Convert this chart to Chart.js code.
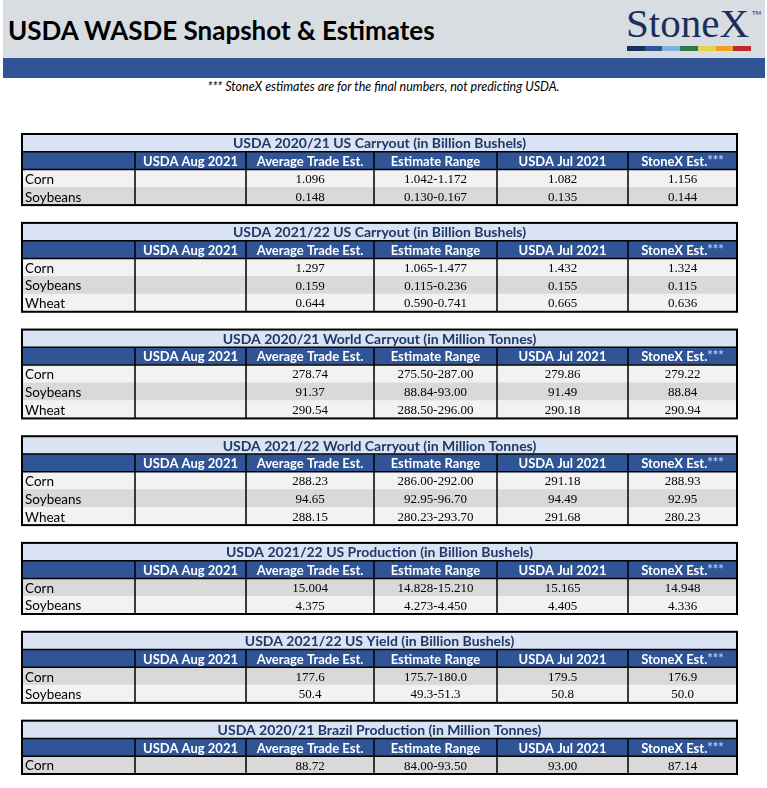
<!DOCTYPE html>
<html>
<head>
<meta charset="utf-8">
<title>USDA WASDE Snapshot &amp; Estimates</title>
<script src="https://cdn.jsdelivr.net/npm/chart.js@4.4.0/dist/chart.umd.min.js"></script>
<style>
  body { margin: 0; width: 767px; height: 788px; overflow: hidden; background: #fff; position: relative; font-family: Lato, sans-serif; }
  #banner { position: absolute; left: 3px; top: 0; width: 762px; height: 58px; background: #d8dde2; }
  #pageTitle { position: absolute; left: 8px; top: 15px; font: bold 26px Lato, sans-serif; color: #000; white-space: nowrap; line-height: 30px; }
  #logo { position: absolute; left: 626px; top: 0px; font: 41px 'Liberation Serif', serif; color: #1b2f58; line-height: 46px; }
  #tm { position: absolute; left: 752px; top: 9px; font: 6px Lato, sans-serif; color: #1b2f58; }
  #logoBar { position: absolute; left: 627px; top: 46px; width: 124px; height: 5px; display: flex; }
  #logoBar span { flex: 1; }
  #blueBar { position: absolute; left: 3px; top: 58px; width: 762px; height: 20px; background: #2f5597; }
  #note { position: absolute; left: 0; width: 767px; top: 79px; text-align: center; font: italic 12.5px Lato, sans-serif; color: #000; }
  #tables { position: absolute; left: 0; top: 100px; }
</style>
</head>
<body>
<div id="banner"></div>
<div id="pageTitle">USDA WASDE Snapshot &amp; Estimates</div>
<div id="logo">StoneX</div>
<div id="tm">TM</div>
<div id="logoBar"></div>
<div id="blueBar"></div>
<div id="note">*** StoneX estimates are for the final numbers, not predicting USDA.</div>
<canvas id="tables" width="767" height="688"></canvas>

<script>
// Table content
const tableTitles = [
    'USDA 2020/21 US Carryout (in Billion Bushels)',
    'USDA 2021/22 US Carryout (in Billion Bushels)',
    'USDA 2020/21 World Carryout (in Million Tonnes)',
    'USDA 2021/22 World Carryout (in Million Tonnes)',
    'USDA 2021/22 US Production (in Billion Bushels)',
    'USDA 2021/22 US Yield (in Billion Bushels)',
    'USDA 2020/21 Brazil Production (in Million Tonnes)'
];
const columnHeaders = ['', 'USDA Aug 2021', 'Average Trade Est.', 'Estimate Range', 'USDA Jul 2021', 'StoneX Est.'];

const tableCrops = [
    ['Corn', 'Soybeans'],
    ['Corn', 'Soybeans', 'Wheat'],
    ['Corn', 'Soybeans', 'Wheat'],
    ['Corn', 'Soybeans', 'Wheat'],
    ['Corn', 'Soybeans'],
    ['Corn', 'Soybeans'],
    ['Corn']
];
const avgTradeEst = [
    [1.096, 0.148],
    [1.297, 0.159, 0.644],
    [278.74, 91.37, 290.54],
    [288.23, 94.65, 288.15],
    [15.004, 4.375],
    [177.6, 50.4],
    [88.72]
];
const rangeLow = [
    [1.042, 0.130],
    [1.065, 0.115, 0.590],
    [275.50, 88.84, 288.50],
    [286.00, 92.95, 280.23],
    [14.828, 4.273],
    [175.7, 49.3],
    [84.00]
];
const rangeHigh = [
    [1.172, 0.167],
    [1.477, 0.236, 0.741],
    [287.00, 93.00, 296.00],
    [292.00, 96.70, 293.70],
    [15.210, 4.450],
    [180.0, 51.3],
    [93.50]
];
const usdaJul2021 = [
    [1.082, 0.135],
    [1.432, 0.155, 0.665],
    [279.86, 91.49, 290.18],
    [291.18, 94.49, 291.68],
    [15.165, 4.405],
    [179.5, 50.8],
    [93.00]
];
const stonexEst = [
    [1.156, 0.144],
    [1.324, 0.115, 0.636],
    [279.22, 88.84, 290.94],
    [288.93, 92.95, 280.23],
    [14.948, 4.336],
    [176.9, 50.0],
    [87.14]
];
// USDA Aug 2021 column is still blank in the snapshot
const decimals = [3, 3, 2, 2, 3, 1, 2];

// Layout / styles
const COL_EDGES = [22, 135, 246, 374, 497, 628, 737];
const darkFirst = [false, false, false, false, true, true, true];
const COLORS = {
    title: '#dae3f3',
    header: '#2f5597',
    light: '#f2f2f2',
    dark: '#d9d9d9',
    titleText: '#1f3864'
};
const logoColors = ['#17305a', '#2f5597', '#7eb1de', '#2c7a4b', '#e4d34c', '#f1a023', '#c1272d'];

const logoBar = document.getElementById('logoBar');
logoColors.forEach(c => {
    const s = document.createElement('span');
    s.style.background = c;
    logoBar.appendChild(s);
});

// One slot per row on the y axis: title, header, crop rows, gap between tables
const slots = [];
tableTitles.forEach((title, t) => {
    if (t > 0) slots.push({ kind: 'gap', t });
    slots.push({ kind: 'title', t });
    slots.push({ kind: 'header', t });
    tableCrops[t].forEach((crop, r) => slots.push({ kind: 'row', t, r }));
});

function fillFor(s) {
    if (s.kind === 'title') return COLORS.title;
    if (s.kind === 'header') return COLORS.header;
    if (s.kind === 'row') {
        const dark = (s.r % 2 === 0) === darkFirst[s.t];
        return dark ? COLORS.dark : COLORS.light;
    }
    return 'rgba(0,0,0,0)';
}

function cellText(s, c) {
    const t = s.t, r = s.r, d = decimals[t];
    if (c === 0) return tableCrops[t][r];
    if (c === 2) return avgTradeEst[t][r].toFixed(d);
    if (c === 3) return rangeLow[t][r].toFixed(d) + '-' + rangeHigh[t][r].toFixed(d);
    if (c === 4) return usdaJul2021[t][r].toFixed(d);
    if (c === 5) return stonexEst[t][r].toFixed(d);
    return '';
}

// Cells are floating bars, one dataset per column
const datasets = columnHeaders.map((h, c) => ({
    label: h || 'Crop',
    data: slots.map(s => {
        if (s.kind === 'gap') return null;
        if (s.kind === 'title') return c === 0 ? [COL_EDGES[0], COL_EDGES[6]] : null;
        return [COL_EDGES[c], COL_EDGES[c + 1]];
    }),
    backgroundColor: slots.map(fillFor),
    borderWidth: 0
}));

const tableText = {
    id: 'tableText',
    afterDatasetsDraw(chart) {
        const { ctx, scales: { x, y } } = chart;
        const slotH = y.getPixelForValue(1) - y.getPixelForValue(0);
        const topOf = i => y.getPixelForValue(i) - slotH / 2;
        const xe = COL_EDGES.map(v => x.getPixelForValue(v));

        ctx.save();
        ctx.textBaseline = 'middle';

        slots.forEach((s, i) => {
            const cy = y.getPixelForValue(i) + 1;
            if (s.kind === 'title') {
                ctx.font = 'bold 14px Lato';
                ctx.fillStyle = COLORS.titleText;
                ctx.textAlign = 'center';
                ctx.fillText(tableTitles[s.t], (xe[0] + xe[6]) / 2, cy);
            } else if (s.kind === 'header') {
                ctx.font = 'bold 13px Lato';
                ctx.textAlign = 'center';
                columnHeaders.forEach((h, c) => {
                    if (!h) return;
                    const cx = (xe[c] + xe[c + 1]) / 2;
                    ctx.fillStyle = '#fff';
                    if (c === 5) {
                        const w1 = ctx.measureText(h).width;
                        const w2 = ctx.measureText('***').width;
                        const left = cx - (w1 + w2) / 2;
                        ctx.textAlign = 'left';
                        ctx.fillText(h, left, cy);
                        ctx.fillStyle = '#b4c7e7';
                        ctx.fillText('***', left + w1, cy - 1);
                        ctx.textAlign = 'center';
                    } else {
                        ctx.fillText(h, cx, cy);
                    }
                });
            } else if (s.kind === 'row') {
                ctx.fillStyle = '#000';
                ctx.font = '13.5px Lato';
                ctx.textAlign = 'left';
                ctx.fillText(cellText(s, 0), xe[0] + 3, cy);
                ctx.font = '13px "Liberation Serif"';
                ctx.textAlign = 'center';
                for (let c = 1; c < 6; c++) {
                    const txt = cellText(s, c);
                    if (txt) ctx.fillText(txt, (xe[c] + xe[c + 1]) / 2, cy);
                }
            }
        });

        // grid lines
        ctx.strokeStyle = '#000';
        tableTitles.forEach((title, t) => {
            const idx = slots.map((s, i) => (s.t === t && s.kind !== 'gap' ? i : -1)).filter(i => i >= 0);
            const first = idx[0], last = idx[idx.length - 1];
            const top = topOf(first), bottom = topOf(last) + slotH;
            const hTop = topOf(first + 1), hBottom = topOf(first + 2);

            ctx.lineWidth = 1.5;
            ctx.beginPath();
            ctx.moveTo(xe[0], hTop); ctx.lineTo(xe[6], hTop);
            ctx.moveTo(xe[0], hBottom); ctx.lineTo(xe[6], hBottom);
            for (let c = 1; c < 6; c++) {
                ctx.moveTo(xe[c], hTop); ctx.lineTo(xe[c], bottom);
            }
            ctx.stroke();

            ctx.lineWidth = 2;
            ctx.strokeRect(xe[0], top, xe[6] - xe[0], bottom - top);
        });
        ctx.restore();
    }
};

new Chart(document.getElementById('tables'), {
    type: 'bar',
    data: { labels: slots.map((s, i) => s.kind + i), datasets },
    options: {
        indexAxis: 'y',
        responsive: false,
        animation: false,
        layout: { padding: { top: 34, bottom: 14, left: 0, right: 0 } },
        datasets: { bar: { grouped: false, categoryPercentage: 1, barPercentage: 1 } },
        scales: {
            x: { type: 'linear', min: 0, max: 767, display: false },
            y: { type: 'category', display: false, offset: true }
        },
        plugins: { legend: { display: false }, tooltip: { enabled: false } }
    },
    plugins: [tableText]
});
</script>
</body>
</html>
